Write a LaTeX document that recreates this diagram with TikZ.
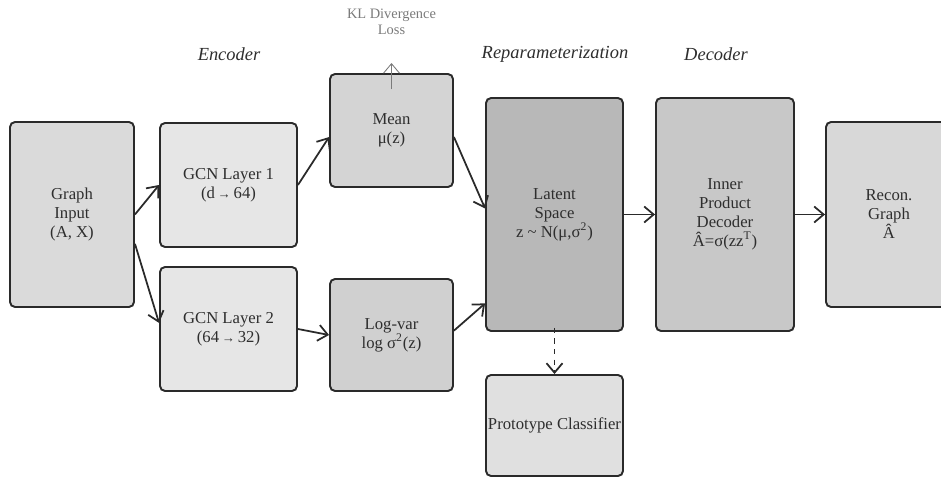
\documentclass[tikz,border=0pt]{standalone}
\usepackage{fontspec}
\setmainfont{Liberation Serif}
\usepackage{tikz}
\usetikzlibrary{arrows.meta}
\usetikzlibrary{calc}
\usetikzlibrary{positioning}
\usepackage{xcolor}

\definecolor{boxline}{HTML}{2A2A2A}
\definecolor{boxtext}{HTML}{2E2E2E}
\definecolor{klgray}{HTML}{7A7A7A}
\definecolor{fillinput}{HTML}{DADADA}
\definecolor{fillgcn}{HTML}{E6E6E6}
\definecolor{fillmean}{HTML}{D4D4D4}
\definecolor{filllogvar}{HTML}{D0D0D0}
\definecolor{filllatent}{HTML}{B8B8B8}
\definecolor{filldecoder}{HTML}{C8C8C8}
\definecolor{fillrecon}{HTML}{D8D8D8}
\definecolor{fillproto}{HTML}{E0E0E0}

\tikzset{
  block/.style={draw=boxline, line width=1.1pt, rounded corners=0.1cm,
    inner sep=0pt, align=center, text=boxtext,
    font=\fontsize{9.5}{10.8}\selectfont},
  stage/.style={font=\fontsize{10.5}{12}\selectfont\itshape, text=boxtext},
  flow/.style={->, line width=1pt, draw=boxline},
  klarrow/.style={->, line width=0.5pt, draw=klgray}
}

\begin{document}
\begin{tikzpicture}[x=0.02cm, y=-0.02cm,
    >={Straight Barb[length=1.9mm,width=3.2mm]}]
    % We start by placing the blocks
\useasboundingbox (0,0) rectangle (941,477);

\node[block, fill=fillinput, minimum width=2.48cm, minimum height=3.70cm]
    (gin) at (72,214.5) {Graph\\Input\\(A, X)};

\node[block, fill=fillgcn, minimum width=2.74cm, minimum height=2.48cm]
    (gcna) at (228.5,185) {GCN Layer 1\\(d\,{\fontsize{7.5}{7.5}\selectfont →}\,64)};
\node[block, fill=fillgcn, minimum width=2.74cm, minimum height=2.48cm]
    (gcnb) at (228.5,329) {GCN Layer 2\\(64\,{\fontsize{7.5}{7.5}\selectfont →}\,32)};

\node[block, fill=fillmean, minimum width=2.46cm, minimum height=2.26cm]
    (mean) at (391.5,130.5) {Mean\\μ(z)};
\node[block, fill=filllogvar, minimum width=2.46cm, minimum height=2.24cm]
    (logvar) at (391.5,335) {Log-var\\log σ\textsuperscript{2}(z)};

\node[block, fill=filllatent, minimum width=2.74cm, minimum height=4.66cm]
    (latent) at (554.5,214.5) {Latent\\Space\\z \textasciitilde{} N(μ,σ\textsuperscript{2})};
\node[block, fill=fillproto, minimum width=2.74cm, minimum height=2.02cm]
    (proto) at (554.5,425.5) {Prototype Classifier};

\node[block, fill=filldecoder, minimum width=2.76cm, minimum height=4.66cm]
    (decoder) at (725,214.5) {Inner\\Product\\Decoder\\Â=σ(zz\textsuperscript{T})};
\node[block, fill=fillrecon, minimum width=2.52cm, minimum height=3.70cm]
    (recon) at (889,214.5) {Recon.\\Graph\\Â};

% stage titles
\node[stage] (encname) at (229,54) {Encoder};
\node[stage] (repname) at (555,54) {Reparameterization};
\node[stage] (decname) at (716,54) {Decoder};

% KL loss
\node[align=center, text=klgray, font=\fontsize{8.2}{9.2}\selectfont]
    (kl) at (391.5,22) {KL Divergence\\Loss};
\coordinate (kltip) at (391.5,63);
\draw[klarrow] ([yshift=-0.32cm]mean.north) -- (kltip);

% connectors
\draw[flow] (gin.east) -- (gcna.west);
\draw[flow] (gin.-25) -- (gcnb.175);
\draw[flow] (gcna.east) -- (mean.186);
\draw[flow] (gcnb.east) -- (logvar.west);
\draw[flow] (mean.354) -- (latent.175);
\draw[flow] (logvar.4) -- (latent.232);
\draw[flow] (latent.east) -- (decoder.west);
\draw[flow] (decoder.east) -- (recon.west);
\draw[flow, dashed] ([yshift=0.08cm]latent.south) -- (proto.north);

\end{tikzpicture}
\end{document}
